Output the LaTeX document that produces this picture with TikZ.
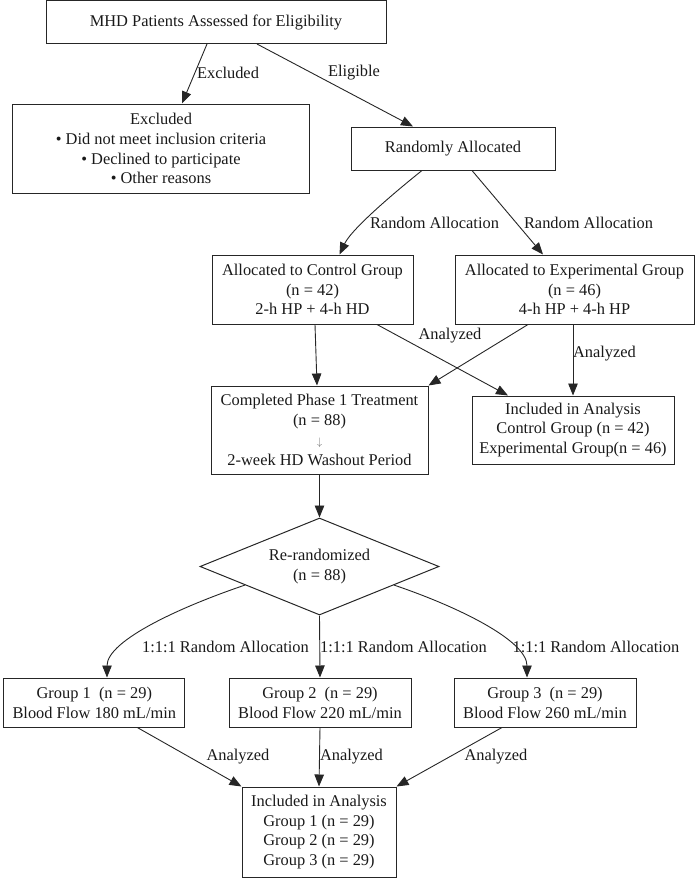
\documentclass[tikz,border=0pt]{standalone}
\usepackage{fontspec}
\setmainfont{Liberation Serif}
\usetikzlibrary{arrows.meta,shapes.geometric}

\begin{document}
\begin{tikzpicture}[x=1pt,y=-1pt,>={Triangle[length=12pt,width=9.5pt]},
  box/.style={draw=black!85,line width=1pt,align=center,inner sep=0pt,text=black!90,font=\fontsize{16.4}{19.8}\selectfont},
  lbl/.style={inner sep=0pt,text=black!90,font=\fontsize{16.4}{19.8}\selectfont},
  link/.style={->,draw=black!85,line width=0.9pt}]
\useasboundingbox (0,0) rectangle (700,887);
% boxes
\node  (mhd) at (216,22)      [box,minimum width=340pt,minimum height=43pt] {MHD Patients Assessed for Eligibility};
\node (excl) at (161,148.5)   [box,minimum width=297pt,minimum height=89pt] {Excluded\\• Did not meet inclusion criteria\\• Declined to participate\\• Other reasons};
\node (rand) at (453,148.5)   [box,minimum width=204pt,minimum height=43pt] {Randomly Allocated};
\node (ctrl) at (312.5,289.5) [box,minimum width=201pt,minimum height=69pt] {Allocated to Control Group\\(n = 42)\\2-h HP + 4-h HD};
\node (expt) at (574.5,289.5) [box,minimum width=239pt,minimum height=69pt] {Allocated to Experimental Group\\(n = 46)\\4-h HP + 4-h HP};
\node  (ph1) at (319.5,430)   [box,minimum width=217pt,minimum height=88pt] {Completed Phase 1 Treatment\\(n = 88)\\{\fontsize{11}{19.8}\selectfont\color{black!55}$\downarrow$}\\2-week HD Washout Period};
\node (incl) at (573,430)     [box,minimum width=202pt,minimum height=68pt] {Included in Analysis\\Control Group (n = 42)\\Experimental Group(n = 46)};
\node  (rer) at (319.5,566.5) [box,diamond,aspect=2.46,minimum width=239pt,minimum height=97pt] {Re-randomized\\(n = 88)};
\node   (g1) at (94.3,702.5)  [box,minimum width=181pt,minimum height=49pt] {Group 1\ \ (n = 29)\\Blood Flow 180 mL/min};
\node   (g2) at (320,702.5)   [box,minimum width=182pt,minimum height=49pt] {Group 2\ \ (n = 29)\\Blood Flow 220 mL/min};
\node   (g3) at (545,702.5)   [box,minimum width=182pt,minimum height=49pt] {Group 3\ \ (n = 29)\\Blood Flow 260 mL/min};
\node  (fin) at (319,832)     [box,minimum width=154pt,minimum height=90pt] {Included in Analysis\\Group 1 (n = 29)\\Group 2 (n = 29)\\Group 3 (n = 29)};
% edge labels
\node (lexc) at (228,73)    [lbl] {Excluded};
\node (lelg) at (354,73)    [lbl] {Eligible};
\node (lra1) at (434.5,223) [lbl] {Random Allocation};
\node (lra2) at (588.5,223) [lbl] {Random Allocation};
\node (lan1) at (450,336)   [lbl] {Analyzed};
\node (lan2) at (604.5,354) [lbl] {Analyzed};
\node (lrr1) at (225.5,647) [lbl] {1:1:1 Random Allocation};
\node (lrr2) at (403.5,647) [lbl] {1:1:1 Random Allocation};
\node (lrr3) at (596,647)   [lbl] {1:1:1 Random Allocation};
\node (lag1) at (238,757)   [lbl] {Analyzed};
\node (lag2) at (351.5,757) [lbl] {Analyzed};
\node (lag3) at (496,757)   [lbl] {Analyzed};
% edges
\draw [link] ([xshift=-9pt]mhd.south) -- ([xshift=21pt]excl.north);
\draw [link] ([xshift=41pt]mhd.south) -- ([xshift=-40pt]rand.north);
\draw [link] ([xshift=-31pt]rand.south) .. controls (400,188) and (352,228) .. ([xshift=27pt]ctrl.north);
\draw [link] ([xshift=19pt]rand.south) -- ([xshift=-31.5pt]expt.north);
\draw [link] ([xshift=2.5pt]ctrl.south) -- ([xshift=-2.5pt]ph1.north);
\draw [link] ([xshift=64.5pt]ctrl.south) -- ([xshift=-65pt]incl.north);
\draw [link] ([xshift=-46.5pt]expt.south) -- (ph1.north east);
\draw [link] ([xshift=-1.5pt]expt.south) -- (incl.north);
\draw [link] (ph1.south) -- (rer.north);
\draw [link] (rer.194) .. controls (183,606) and (107,640) .. ([xshift=12.7pt]g1.north);
\draw [link] (rer.south) -- (g2.north);
\draw [link] (rer.-14) .. controls (456,606) and (527,640) .. ([xshift=-18pt]g3.north);
\draw [link] ([xshift=43pt]g1.south) -- (fin.north west);
\draw [link] (g2.south) -- (fin.north);
\draw [link] ([xshift=-43pt]g3.south) -- (fin.north east);
\end{tikzpicture}
\end{document}
